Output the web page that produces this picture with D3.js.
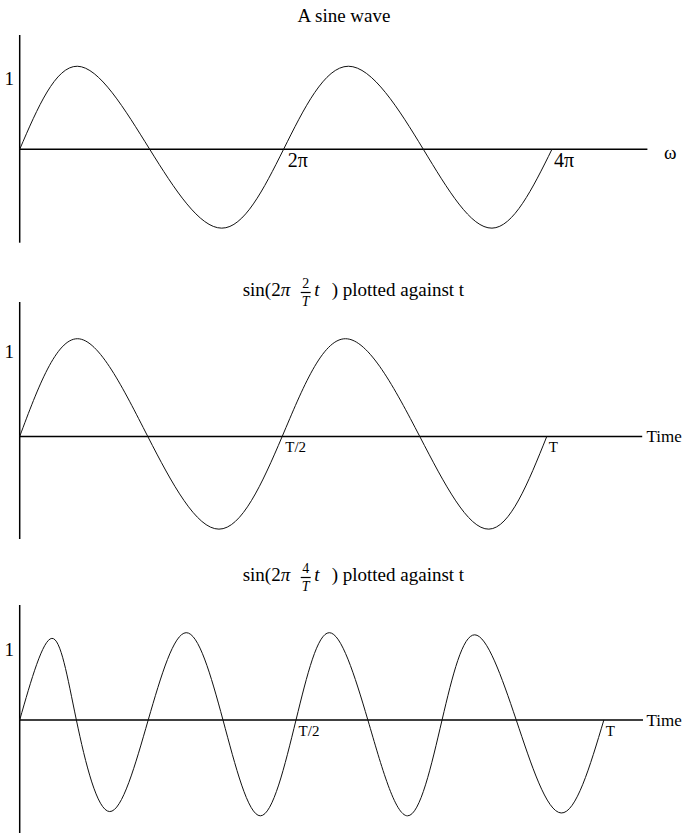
<!DOCTYPE html>
<html>
<head>
<meta charset="utf-8">
<script src="https://cdn.jsdelivr.net/npm/d3@7"></script>
<style>
  html, body { margin: 0; padding: 0; background: #fff; }
  svg { display: block; }
  text { font-family: "Liberation Serif", "Times New Roman", serif; fill: #000; }
</style>
</head>
<body>
<svg id="chart" width="686" height="833"></svg>
<script>
// Panel 1: sin(ω) over two full turns, ω in radians
const wave1X = [0, 1.36, 3.07, 4.77, 6.23, 7.76, 9.53, 11.15, 4 * Math.PI];
const wave1Y = [0, 1.17, 0, -1.11, 0, 1.17, 0, -1.11, 0];
const ticks1 = [2 * Math.PI, 4 * Math.PI];
const tickLabels1 = ["2π", "4π"];

// Panel 2: sin(2π·2t/T), t as a fraction of T
const wave2X = [0, 0.110, 0.243, 0.378, 0.498, 0.618, 0.759, 0.890, 1.0];
const wave2Y = [0, 1.15, 0, -1.09, 0, 1.15, 0, -1.09, 0];
const ticks2 = [0.5, 1];
const tickLabels2 = ["T/2", "T"];

// Panel 3: sin(2π·4t/T), t as a fraction of T
const wave3X = [0, 0.055, 0.097, 0.154, 0.220, 0.285, 0.348, 0.412, 0.473,
                0.530, 0.596, 0.664, 0.723, 0.779, 0.850, 0.927, 1.0];
const wave3Y = [0, 1.15, 0, -1.29, 0, 1.23, 0, -1.35, 0,
                1.23, 0, -1.35, 0, 1.20, 0, -1.31, 0];
const ticks3 = [0.474, 1];
const tickLabels3 = ["T/2", "T"];

const svg = d3.select("#chart");

const panels = [
  { xs: wave1X, ys: wave1Y, ticks: ticks1, labels: tickLabels1, axisLabel: "ω",
    xDomain: [0, 14.82], xRange: [19.7, 647.4],
    yDomain: [-1.315, 1.61], yRange: [242.7, 35],
    tickSize: 20, tickDy: 18, axisLabelX: 664, axisLabelDy: 10, axisLabelSize: 19 },
  { xs: wave2X, ys: wave2Y, ticks: ticks2, labels: tickLabels2, axisLabel: "Time",
    xDomain: [0, 1.181], xRange: [19.7, 642.2],
    yDomain: [-1.206, 1.582], yRange: [539, 302],
    tickSize: 15, tickDy: 16, axisLabelX: 646.5, axisLabelDy: 6, axisLabelSize: 17 },
  { xs: wave3X, ys: wave3Y, ticks: ticks3, labels: tickLabels3, axisLabel: "Time",
    xDomain: [0, 1.067], xRange: [19.7, 643],
    yDomain: [-1.592, 1.62], yRange: [833, 605],
    tickSize: 15, tickDy: 16, axisLabelX: 646.5, axisLabelDy: 6, axisLabelSize: 17 }
];

panels.forEach(p => {
  const x = d3.scaleLinear().domain(p.xDomain).range(p.xRange);
  const y = d3.scaleLinear().domain(p.yDomain).range(p.yRange);
  const g = svg.append("g");

  // vertical axis
  g.append("line")
    .attr("x1", x(0)).attr("x2", x(0))
    .attr("y1", y.range()[0]).attr("y2", y.range()[1])
    .attr("stroke", "#000").attr("stroke-width", 1.5);

  // horizontal axis through zero
  g.append("line")
    .attr("x1", x(0)).attr("x2", x.range()[1])
    .attr("y1", y(0)).attr("y2", y(0))
    .attr("stroke", "#000").attr("stroke-width", 1.5);

  // the wave
  const pts = p.xs.map((v, i) => [v, p.ys[i]]);
  g.append("path")
    .datum(pts)
    .attr("fill", "none")
    .attr("stroke", "#111")
    .attr("stroke-width", 1)
    .attr("d", d3.line().x(d => x(d[0])).y(d => y(d[1])).curve(d3.curveNatural));

  // amplitude label
  g.append("text")
    .attr("x", 14).attr("y", y(1))
    .attr("dy", "0.35em")
    .attr("text-anchor", "end")
    .style("font-size", "19px")
    .text("1");

  // tick labels just right of each crossing
  p.ticks.forEach((t, i) => {
    g.append("text")
      .attr("x", x(t) + 2).attr("y", y(0))
      .attr("dy", p.tickDy)
      .style("font-size", p.tickSize + "px")
      .text(p.labels[i]);
  });

  // axis name
  g.append("text")
    .attr("x", p.axisLabelX).attr("y", y(0))
    .attr("dy", p.axisLabelDy)
    .style("font-size", p.axisLabelSize + "px")
    .text(p.axisLabel);
});

// Titles
svg.append("text")
  .attr("x", 344).attr("y", 22)
  .attr("text-anchor", "middle")
  .style("font-size", "19px")
  .text("A sine wave");

function fracTitle(x0, baseline, numerator) {
  const g = svg.append("g");
  g.append("text").attr("x", x0).attr("y", baseline)
    .style("font-size", "19px").text("sin(2");
  g.append("text").attr("x", x0 + 38).attr("y", baseline)
    .style("font-size", "19px").style("font-style", "italic").text("π");
  const cx = x0 + 63;
  g.append("text").attr("x", cx).attr("y", baseline - 8)
    .attr("text-anchor", "middle").style("font-size", "14px").text(numerator);
  g.append("line")
    .attr("x1", cx - 5).attr("x2", cx + 5)
    .attr("y1", baseline - 3.5).attr("y2", baseline - 3.5)
    .attr("stroke", "#000").attr("stroke-width", 1.2);
  g.append("text").attr("x", cx).attr("y", baseline + 10)
    .attr("text-anchor", "middle").style("font-size", "14px")
    .style("font-style", "italic").text("T");
  g.append("text").attr("x", x0 + 71.5).attr("y", baseline)
    .style("font-size", "19px").style("font-style", "italic").text("t");
  g.append("text").attr("x", x0 + 89).attr("y", baseline)
    .style("font-size", "19px").text(") plotted against t");
}

fracTitle(242.7, 296, "2");
fracTitle(242.7, 581, "4");
</script>
</body>
</html>
